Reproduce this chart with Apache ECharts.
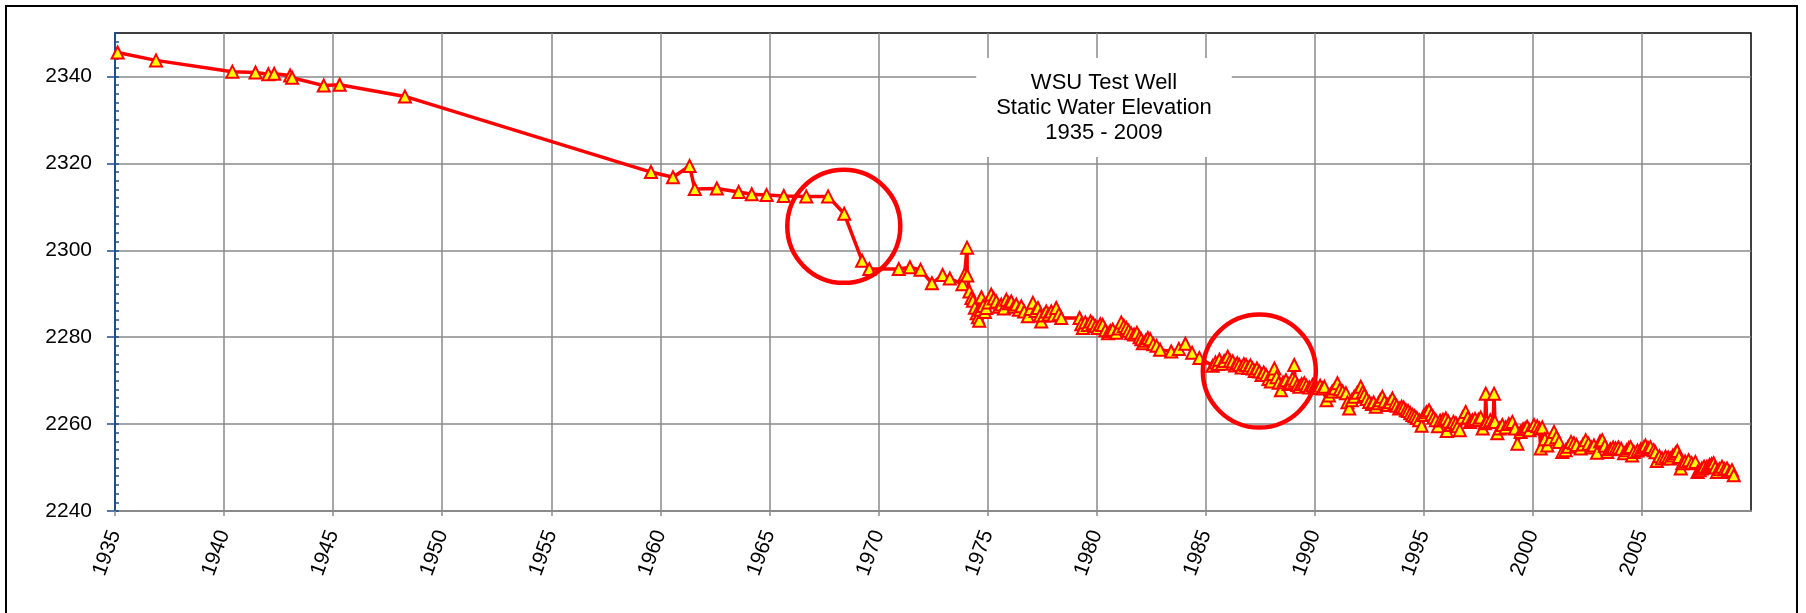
<!DOCTYPE html>
<html>
<head>
<meta charset="utf-8">
<title>WSU Test Well - Static Water Elevation</title>
<script src="https://cdn.jsdelivr.net/npm/echarts@6.0.0/dist/echarts.min.js"></script>
<style>
    html, body { margin: 0; padding: 0; background: #fff; }
    #chartLine { width: 1806px; height: 613px; }
</style>
</head>
<body>
<div id="chartLine"></div>
<script>
    // measurement dates (decimal year) and static water elevation (ft)
    var years = [
        1935.12, 1936.88, 1940.38, 1941.44, 1942.03, 1942.30, 1943.03, 1943.12, 1944.57, 1945.30, 1948.29,
        1959.57, 1960.58, 1961.34, 1961.58, 1962.59, 1963.59, 1964.19, 1964.87, 1965.66, 1966.69, 1967.69,
        1968.43, 1969.25, 1969.58, 1970.93, 1971.44, 1971.93, 1972.45, 1972.94, 1973.27, 1973.85, 1973.95,
        1974.06, 1974.07, 1974.17, 1974.26, 1974.33, 1974.42, 1974.50, 1974.56, 1974.62, 1974.68, 1974.72,
        1974.80, 1974.88, 1974.94, 1975.05, 1975.17, 1975.28, 1975.40, 1975.52, 1975.63, 1975.75, 1975.86,
        1975.97, 1976.09, 1976.20, 1976.32, 1976.44, 1976.55, 1976.68, 1976.85, 1976.97, 1977.08, 1977.20,
        1977.31, 1977.40, 1977.46, 1977.58, 1977.69, 1977.80, 1977.92, 1978.03, 1978.15, 1978.27, 1978.38,
        1979.22, 1979.30, 1979.37, 1979.48, 1979.60, 1979.72, 1979.83, 1979.95, 1980.05, 1980.17, 1980.28,
        1980.40, 1980.52, 1980.63, 1980.74, 1980.90, 1981.02, 1981.13, 1981.25, 1981.36, 1981.47, 1981.58,
        1981.72, 1981.85, 1981.97, 1982.05, 1982.12, 1982.25, 1982.35, 1982.46, 1982.60, 1982.75, 1982.91,
        1983.42, 1983.77, 1984.07, 1984.38, 1984.71,
        1985.32, 1985.45, 1985.56, 1985.63, 1985.75, 1985.85, 1986.01, 1986.12, 1986.24, 1986.35, 1986.45,
        1986.54, 1986.65, 1986.75, 1986.85, 1986.95, 1987.05, 1987.15, 1987.25, 1987.35, 1987.46, 1987.56,
        1987.66, 1987.77, 1987.88, 1987.99, 1988.08, 1988.15, 1988.25, 1988.35, 1988.45, 1988.55, 1988.68,
        1988.80, 1988.90, 1988.98, 1989.06, 1989.10, 1989.20, 1989.29, 1989.40, 1989.52, 1989.62, 1989.75,
        1989.90, 1989.98, 1990.10, 1990.25, 1990.36,
        1990.44, 1990.54, 1990.65, 1990.80, 1990.92, 1991.04, 1991.15, 1991.28, 1991.43, 1991.50, 1991.58,
        1991.70, 1991.81, 1991.95, 1992.11, 1992.20, 1992.27, 1992.38, 1992.50, 1992.62, 1992.70, 1992.80,
        1992.92, 1993.00, 1993.10, 1993.20, 1993.33, 1993.45, 1993.56, 1993.67, 1993.76, 1993.87, 1993.98,
        1994.08, 1994.18, 1994.28, 1994.38, 1994.48, 1994.58, 1994.68, 1994.79, 1994.90, 1995.01, 1995.12,
        1995.24, 1995.35, 1995.45, 1995.55, 1995.65, 1995.75, 1995.88, 1996.01, 1996.05, 1996.12, 1996.25,
        1996.36, 1996.47, 1996.55, 1996.65, 1996.78, 1996.92, 1997.02, 1997.12, 1997.23, 1997.35, 1997.50,
        1997.61, 1997.70, 1997.80, 1997.84, 1997.88, 1998.05, 1998.18, 1998.22, 1998.26, 1998.37, 1998.48,
        1998.60, 1998.75, 1998.90, 1999.06, 1999.18, 1999.29, 1999.44, 1999.55, 1999.65, 1999.74, 1999.85,
        2000.05, 2000.20, 2000.30, 2000.36, 2000.43, 2000.55, 2000.66, 2000.80, 2000.97, 2001.08, 2001.20,
        2001.35, 2001.50, 2001.62, 2001.75, 2001.88, 2002.00, 2002.19, 2002.30, 2002.42, 2002.55, 2002.68,
        2002.80, 2002.94, 2003.08, 2003.18, 2003.30, 2003.41, 2003.55, 2003.68, 2003.79, 2003.92, 2004.05,
        2004.18, 2004.30, 2004.40, 2004.48, 2004.55, 2004.63, 2004.80, 2004.95, 2005.09, 2005.16, 2005.28,
        2005.39, 2005.54, 2005.62, 2005.68, 2005.80, 2005.92, 2006.08, 2006.20, 2006.30, 2006.42, 2006.54,
        2006.62, 2006.70, 2006.78, 2006.85, 2006.98, 2007.14, 2007.28, 2007.45, 2007.55, 2007.65, 2007.75,
        2007.85, 2007.98, 2008.10, 2008.20, 2008.29, 2008.36, 2008.44, 2008.55, 2008.67, 2008.78, 2008.90,
        2009.02, 2009.13, 2009.21
    ];
    var elev = [
        2345.5, 2343.7, 2341.1, 2340.9, 2340.5, 2340.6, 2340.2, 2339.7, 2337.9, 2338.1, 2335.4,
        2318.0, 2316.8, 2319.4, 2314.1, 2314.2, 2313.4, 2312.9, 2312.7, 2312.5, 2312.4, 2312.4,
        2308.4, 2297.6, 2295.7, 2295.7, 2296.1, 2295.5, 2292.4, 2294.3, 2293.5, 2292.2, 2294.4,
        2300.6, 2294.2, 2290.5, 2289.0, 2288.4, 2286.8, 2285.5, 2284.6, 2283.8, 2286.3, 2289.2,
        2287.2, 2285.8, 2286.7, 2288.0, 2289.8, 2288.9, 2288.2, 2287.0, 2287.5, 2286.6, 2288.6,
        2287.8, 2288.2, 2287.0, 2287.5, 2286.3, 2287.1, 2285.9, 2284.8, 2286.5, 2287.9, 2286.0,
        2286.7, 2285.0, 2283.6, 2285.0, 2285.9, 2285.2, 2285.9, 2285.0, 2286.7, 2285.3, 2284.4,
        2284.4, 2283.0, 2282.1, 2283.4, 2282.8, 2283.6, 2283.2, 2282.5, 2282.1, 2283.0, 2282.8,
        2281.6, 2280.9, 2281.4, 2281.7, 2281.0, 2282.0, 2283.4, 2282.6, 2282.1, 2281.5, 2280.9,
        2280.6, 2281.0, 2280.0, 2279.5, 2278.6, 2279.2, 2279.8, 2279.5, 2278.4, 2278.0, 2277.1,
        2276.7, 2277.3, 2278.5, 2276.4, 2275.2,
        2273.4, 2274.2, 2273.8, 2274.8, 2273.9, 2274.5, 2275.5, 2274.6, 2274.4, 2273.5, 2274.0,
        2273.6, 2273.0, 2273.8, 2273.6, 2272.9, 2273.5, 2272.8, 2272.2, 2272.8, 2272.1, 2271.3,
        2271.9, 2271.3, 2270.4, 2269.8, 2271.5, 2272.8, 2270.8, 2269.5, 2267.8, 2269.6, 2270.1,
        2269.2, 2269.5, 2270.5, 2273.6, 2270.0, 2269.0, 2268.6, 2269.2, 2269.4, 2268.8, 2268.4,
        2269.0, 2268.6, 2268.3, 2268.8, 2268.2,
        2268.6, 2265.5, 2266.6, 2267.5, 2268.2, 2269.4, 2268.0, 2267.5, 2267.1, 2265.0, 2263.6,
        2265.5, 2266.3, 2267.2, 2268.6, 2267.4, 2266.7, 2265.8, 2265.1, 2264.6, 2265.0, 2264.0,
        2264.8, 2265.5, 2266.3, 2265.2, 2264.4, 2265.0, 2265.9, 2264.8, 2264.2, 2263.6, 2264.0,
        2263.8, 2263.2, 2263.0, 2262.5, 2262.1, 2261.8, 2261.4, 2260.9, 2259.6, 2262.1, 2262.7,
        2263.2, 2262.2, 2261.5, 2260.9, 2259.5, 2260.8, 2261.0, 2261.3, 2258.4, 2260.6, 2259.8,
        2260.5, 2260.2, 2259.5, 2258.6, 2261.5, 2262.8, 2261.5, 2260.5, 2260.9, 2261.2, 2261.0,
        2261.5, 2259.0, 2260.2, 2267.0, 2260.5, 2260.9, 2260.6, 2267.0, 2260.5, 2257.9, 2259.0,
        2259.8, 2259.2, 2260.0, 2260.5, 2259.0, 2255.5, 2258.2, 2258.8, 2259.0, 2259.4, 2258.6,
        2259.8, 2259.5, 2259.0, 2254.4, 2259.2, 2256.5, 2255.1, 2256.5, 2258.2, 2257.0, 2255.9,
        2253.6, 2254.0, 2254.8, 2255.9, 2255.6, 2255.2, 2254.4, 2255.3, 2256.3, 2255.5, 2254.6,
        2255.1, 2253.4, 2256.0, 2256.3, 2255.0, 2253.6, 2254.2, 2254.6, 2254.4, 2254.6, 2254.3,
        2253.3, 2254.0, 2254.5, 2254.7, 2252.8, 2253.6, 2253.9, 2254.2, 2254.7, 2255.1, 2254.5,
        2254.7, 2254.0, 2253.5, 2251.5, 2252.6, 2252.1, 2252.5, 2252.3, 2252.1, 2252.8, 2253.3,
        2253.8, 2252.4, 2249.8, 2251.0, 2251.4, 2251.7, 2251.0, 2251.3, 2249.0, 2249.4, 2249.8,
        2250.2, 2250.2, 2250.6, 2250.8, 2251.0, 2250.0, 2249.0, 2249.6, 2250.2, 2249.6, 2249.8,
        2249.0, 2249.4, 2248.2
    ];
    // axis tick labels
    var xTickYears = [1935, 1940, 1945, 1950, 1955, 1960, 1965, 1970, 1975, 1980, 1985, 1990, 1995, 2000, 2005];
    var yTickElev = [2240, 2260, 2280, 2300, 2320, 2340];
    // red circles drawn round the two drops (data coords)
    var circled = [[1968.41, 2305.5], [1987.46, 2272.2]];

    var fontFam = '"Liberation Sans", Arial, Helvetica, sans-serif';
    var gridGray = '#8a8a8a';
    var axisBlue = '#1f4e8c';

    function drawChart() {
        var chartLine = echarts.init(document.getElementById('chartLine'));
        var pts = [];
        for (var i = 0; i < years.length; i++) {
            pts.push([years[i], elev[i]]);
        }
        var option = {
            animation: false,
            backgroundColor: '#fff',
            title: {
                text: 'WSU Test Well\nStatic Water Elevation\n1935 - 2009',
                left: 1084,
                top: 58,
                textAlign: 'center',
                padding: [12, 20, 12, 20],
                backgroundColor: '#fff',
                textStyle: {
                    fontFamily: fontFam,
                    fontSize: 22,
                    fontWeight: 'normal',
                    color: '#000',
                    lineHeight: 25
                }
            },
            grid: {
                left: 115,
                right: 55,
                top: 33,
                bottom: 102,
                show: true,
                borderColor: '#000',
                borderWidth: 1.5,
                backgroundColor: 'transparent'
            },
            xAxis: {
                type: 'value',
                min: 1935,
                max: 2010,
                interval: 5,
                axisLine: { show: true, onZero: false, lineStyle: { color: gridGray, width: 2 } },
                axisTick: { show: true, length: 5, customValues: xTickYears, lineStyle: { color: gridGray, width: 1.5 } },
                axisLabel: {
                    customValues: xTickYears,
                    rotate: 70,
                    margin: 20,
                    fontFamily: fontFam,
                    fontSize: 21,
                    color: '#000',
                    formatter: function (v) { return String(v); }
                },
                splitLine: { show: true, lineStyle: { color: gridGray, width: 1.5 } }
            },
            yAxis: [
                {
                    type: 'value',
                    min: 2240,
                    max: 2350,
                    interval: 20,
                    position: 'left',
                    axisLine: { show: true, onZero: false, lineStyle: { color: axisBlue, width: 2 } },
                    axisTick: { show: true, length: 8, customValues: yTickElev, lineStyle: { color: axisBlue, width: 1.5 } },
                    axisLabel: {
                        customValues: yTickElev,
                        margin: 23,
                        fontFamily: fontFam,
                        fontSize: 21,
                        color: '#000',
                        formatter: function (v) { return String(v); }
                    },
                    splitLine: { show: true, lineStyle: { color: gridGray, width: 1.5 } }
                },
                {
                    // only the small inside ticks every 2 ft
                    type: 'value',
                    min: 2240,
                    max: 2350,
                    interval: 2,
                    position: 'left',
                    offset: 0,
                    axisLine: { show: false },
                    axisTick: { show: true, inside: true, length: 4, lineStyle: { color: axisBlue, width: 1.5 } },
                    axisLabel: { show: false },
                    splitLine: { show: false }
                }
            ],
            series: [
                {
                    name: 'Static Water Elevation',
                    type: 'line',
                    xAxisIndex: 0,
                    yAxisIndex: 0,
                    data: pts,
                    symbol: 'triangle',
                    symbolSize: 12,
                    showAllSymbol: true,
                    lineStyle: { color: '#ff0000', width: 3.5 },
                    itemStyle: { color: '#ffff00', borderColor: '#ff0000', borderWidth: 2 },
                    emphasis: { disabled: true },
                    markPoint: {
                        silent: true,
                        symbol: 'circle',
                        symbolSize: 113,
                        itemStyle: { color: 'rgba(0,0,0,0)', borderColor: '#ff0000', borderWidth: 4.5 },
                        label: { show: false },
                        data: circled.map(function (c) { return { coord: c }; })
                    }
                }
            ],
            graphic: [
                {
                    // outer chart frame
                    type: 'rect',
                    silent: true,
                    shape: { x: 6, y: 6, width: 1791, height: 640 },
                    style: { fill: 'none', stroke: '#000', lineWidth: 2 }
                }
            ]
        };
        chartLine.setOption(option);
    }

    drawChart();
</script>
</body>
</html>
